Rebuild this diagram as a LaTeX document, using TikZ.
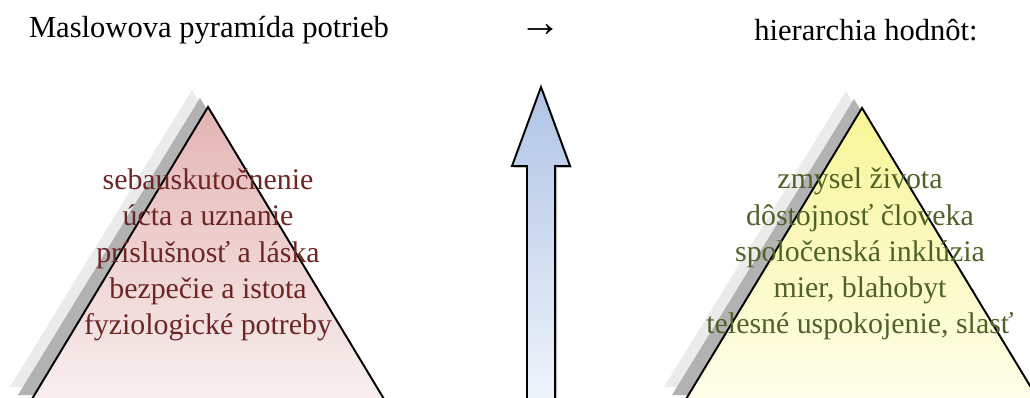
\documentclass[tikz,border=0pt]{standalone}
\usepackage{fontspec}
\setmainfont{Liberation Serif}
\usetikzlibrary{positioning}

\definecolor{maslowred}{RGB}{110,38,36}
\definecolor{valuegreen}{RGB}{79,98,40}
\definecolor{redtop}{RGB}{228,180,180}
\definecolor{redbottom}{RGB}{249,240,240}
\definecolor{yellowtop}{RGB}{248,246,150}
\definecolor{yellowbottom}{RGB}{254,254,236}
\definecolor{bluetop}{RGB}{176,196,230}
\definecolor{bluebottom}{RGB}{240,244,251}

\tikzset{
    headline/.style={font=\fontsize{17.4pt}{20pt}\selectfont, text=black},
    pyrtext/.style={align=center, font=\fontsize{17pt}{20.6pt}\selectfont},
    darkshadow/.style={fill=black!30},
    lightshadow/.style={fill=black!8},
    edge/.style={draw=black, line width=1.1pt, line join=miter}
}

\begin{document}
\begin{tikzpicture}[x=0.02cm, y=-0.02cm]
    \clip (0,0) rectangle (1030,398);
    \fill[white] (0,0) rectangle (1030,398);

    % Pyramida vlavo
    \coordinate (LTop) at (208,107);
    \coordinate (LLeft) at (29,404);
    \coordinate (LRight) at (387,404);

    % Pyramida vpravo
    \coordinate (RTop) at (862,108);
    \coordinate (RLeft) at (683,404);
    \coordinate (RRight) at (1041,404);

    % Tiene
    \fill[lightshadow] ([shift={(-16,-17)}]LTop) -- ([shift={(-19,-17)}]LLeft) -- ([shift={(-16,-17)}]LRight) -- cycle;
    \fill[darkshadow] ([shift={(-8,-9)}]LTop) -- ([shift={(-11,-9)}]LLeft) -- ([shift={(-8,-9)}]LRight) -- cycle;
    \fill[lightshadow] ([shift={(-16,-17)}]RTop) -- ([shift={(-19,-17)}]RLeft) -- ([shift={(-16,-17)}]RRight) -- cycle;
    \fill[darkshadow] ([shift={(-8,-9)}]RTop) -- ([shift={(-11,-9)}]RLeft) -- ([shift={(-8,-9)}]RRight) -- cycle;

    % Vyplne s prechodom
    \shade[top color=redtop, bottom color=redbottom] (LTop) -- (LLeft) -- (LRight) -- cycle;
    \shade[top color=yellowtop, bottom color=yellowbottom] (RTop) -- (RLeft) -- (RRight) -- cycle;
    \draw[edge] (LLeft) -- (LTop) -- (LRight);
    \draw[edge] (RLeft) -- (RTop) -- (RRight);

    % Sipka v strede
    \coordinate (ATip) at (541,87);
    \path[fill=black!25] (543,89) -- (572,168) -- (557,168) -- (557,400) -- (529,400) -- (529,168) -- (514,168) -- cycle;
    \shade[top color=bluetop, bottom color=bluebottom, draw=black, line width=1.1pt]
        (ATip) -- (570,166) -- (555,166) -- (555,400) -- (527,400) -- (527,166) -- (512,166) -- cycle;

    % Nadpisy
    \node[headline] (maslow) at (209,30) {Maslowova pyramída potrieb};
    \node[headline, font=\fontsize{24pt}{24pt}\selectfont] (arrowsign) at (541,31) {→};
    \node[headline] (values) at (866,30) {hierarchia hodnôt:};

    % Texty v pyramidach
    \node[pyrtext, text=maslowred] (needs) at (208,255) {sebauskutočnenie\\úcta a uznanie\\príslušnosť a láska\\bezpečie a istota\\fyziologické potreby};
    \node[pyrtext, text=valuegreen] (goods) at (860,254) {zmysel života\\dôstojnosť človeka\\spoločenská inklúzia\\mier, blahobyt\\telesné uspokojenie, slasť};
\end{tikzpicture}
\end{document}
